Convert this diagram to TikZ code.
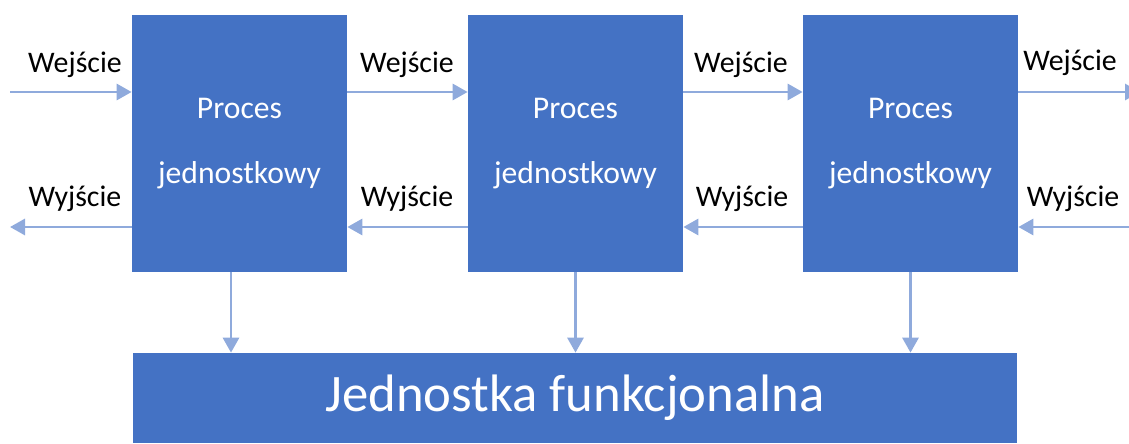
\documentclass[tikz,border=0pt]{standalone}
\usepackage{fontspec}
\setmainfont{Carlito}
\usepackage{xcolor}
\definecolor{boxblue}{HTML}{4472C4}
\definecolor{arrowblue}{HTML}{8FAADC}
\usetikzlibrary{arrows.meta, positioning, calc}

\begin{document}
\begin{tikzpicture}[
    >={Triangle[length=0.3cm, width=0.32cm]},
    proc/.style={fill=boxblue, minimum width=4.3cm, minimum height=5.14cm, align=center, text=white, font=\fontsize{18}{37}\selectfont},
    unit/.style={fill=boxblue, minimum width=17.68cm, minimum height=1.8cm, text=white, font=\fontsize{30}{36}\selectfont},
    lbl/.style={font=\fontsize{17}{20}\selectfont, text=black},
    flow/.style={->, draw=arrowblue, line width=1.7pt},
]
\useasboundingbox (0,0) rectangle (22.58,8.86);

% ── Unit processes ──
\node[proc] (p1) at (4.79, 5.99) {Proces\\jednostkowy};
\node[proc] (p2) at (11.51, 5.99) {Proces\\jednostkowy};
\node[proc] (p3) at (18.21, 5.99) {Proces\\jednostkowy};

% ── Functional unit ──
\node[unit] (fu) at (11.5, 0.9) {Jednostka funkcjonalna};

% ── Free ends of the flows ──
\coordinate (top) at (0, 7.02);
\coordinate (bot) at (0, 4.32);
\coordinate (inL) at (0.2, 7.02);
\coordinate (outL) at (0.2, 4.32);
\coordinate (outR) at (22.8, 7.02);
\coordinate (inR) at (22.6, 4.32);

% ── Labels ──
\node[lbl] (we1) at (1.5, 7.56) {Wejście};
\node[lbl] (we2) at (8.14, 7.56) {Wejście};
\node[lbl] (we3) at (14.82, 7.56) {Wejście};
\node[lbl] (we4) at (21.4, 7.6) {Wejście};
\node[lbl] (wy1) at (1.5, 4.88) {Wyjście};
\node[lbl] (wy2) at (8.14, 4.88) {Wyjście};
\node[lbl] (wy3) at (14.84, 4.88) {Wyjście};
\node[lbl] (wy4) at (21.46, 4.88) {Wyjście};

% ── Inputs (left to right) ──
\draw[flow] (inL) -- (p1.west |- top);
\draw[flow] (p1.east |- top) -- (p2.west |- top);
\draw[flow] (p2.east |- top) -- (p3.west |- top);
\draw[flow] (p3.east |- top) -- (outR);

% ── Outputs (right to left) ──
\draw[flow] (inR) -- (p3.east |- bot);
\draw[flow] (p3.west |- bot) -- (p2.east |- bot);
\draw[flow] (p2.west |- bot) -- (p1.east |- bot);
\draw[flow] (p1.west |- bot) -- (outL);

% ── Into the functional unit ──
\draw[flow] ([xshift=-0.17cm]p1.south) -- ([xshift=-0.17cm]p1.south |- fu.north);
\draw[flow] (p2.south) -- (p2.south |- fu.north);
\draw[flow] (p3.south) -- (p3.south |- fu.north);
\end{tikzpicture}
\end{document}
